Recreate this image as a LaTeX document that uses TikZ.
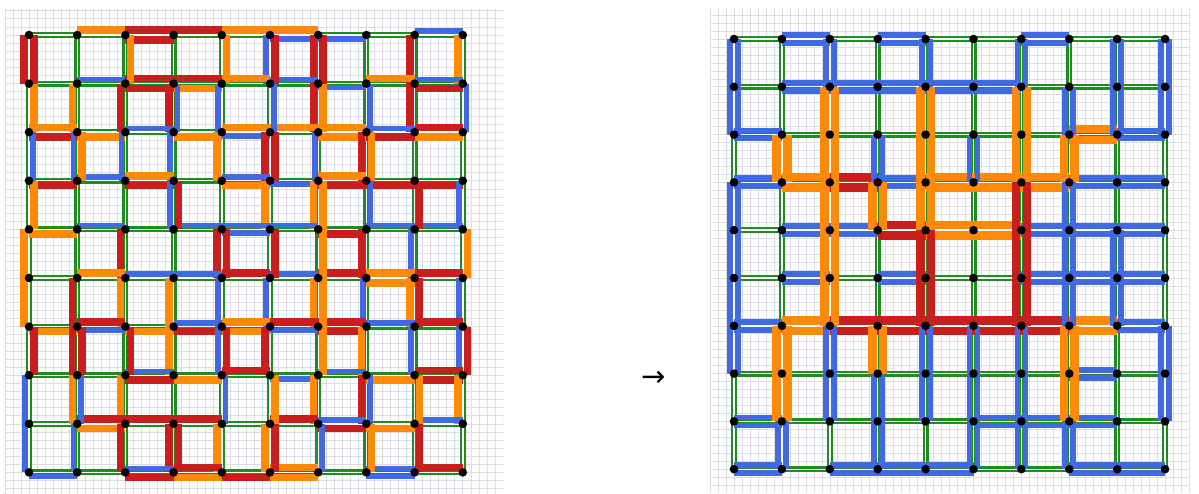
\documentclass[tikz,border=0pt]{standalone}
\usepackage{fontspec}
\newfontfamily\arrowfont{DejaVu Sans}
\usetikzlibrary{calc}
\definecolor{cred}{HTML}{C81E1E}
\definecolor{corange}{HTML}{FF8A0A}
\definecolor{cblue}{HTML}{4169E1}
\definecolor{cgreen}{HTML}{1E8C1E}
\definecolor{cpaper}{HTML}{DCDCE4}
\def\bgap{1.1}
\def\bwid{0}
\def\wRO{7.5}
\def\wB{5.5}
\newcommand\SB[5]{\path[bar/.expanded=#5] ($(#1)+({#3*(\bgap+\bwid/2)},{#4*(\bgap+\bwid/2)})$) -- ($(#2)+({#3*(\bgap+\bwid/2)},{#4*(\bgap+\bwid/2)})$);}
\begin{document}
\begin{tikzpicture}[x=1pt,y=-1pt,
  paper/.style={draw=cpaper, line width=0.6pt},
  gedge/.style={draw=cgreen, line width=2.3pt, double=white, double distance=1.4pt},
  bar/.style={bar#1},
  barr/.style={draw=cred, line width=\wRO pt, /utils/exec={\edef\bwid{\wRO}}},
  baro/.style={draw=corange, line width=\wRO pt, /utils/exec={\edef\bwid{\wRO}}},
  barb/.style={draw=cblue, line width=\wB pt, /utils/exec={\edef\bwid{\wB}}},
  barn/.style={draw=none, /utils/exec={\def\bwid{0}}},
  dot/.style={fill=black}]
\useasboundingbox (0,0) rectangle (1199,494);
\fill[white] (0,0) rectangle (1199,494);
% grid paper
\begin{scope}
\clip (5,10) rectangle (503,493);
\foreach \k in {-3,...,59} \draw[paper] ({29+8.033*\k},0) -- ++(0,500);
\foreach \k in {-4,...,57} \draw[paper] (0,{35+8.1*\k}) -- ++(510,0);
\end{scope}
\begin{scope}
\clip (710,9) rectangle (1190,492);
\foreach \k in {-3,...,57} \draw[paper] ({734+7.983*\k},0) -- ++(0,500);
\foreach \k in {-5,...,57} \draw[paper] (700,{39+7.967*\k}) -- ++(500,0);
\end{scope}
% lattice points
\foreach \i in {0,...,9}{\foreach \j in {0,...,9}{
  \coordinate (L-\i-\j) at ({29+48.2*\i},{35+48.6*\j});
  \coordinate (R-\i-\j) at ({734+47.9*\i},{39+47.8*\j});
}}
% green lattice edges
\foreach \i [evaluate=\i as \ii using int(\i+1)] in {0,...,8}{\foreach \j in {0,...,9}{
  \draw[gedge] (L-\i-\j) -- (L-\ii-\j);
  \draw[gedge] (L-\j-\i) -- (L-\j-\ii);
  \draw[gedge] (R-\i-\j) -- (R-\ii-\j);
  \draw[gedge] (R-\j-\i) -- (R-\j-\ii);
}}
% left grid: face bars (col/row/top/right/bottom/left)
\foreach \fc/\fr/\sT/\sR/\sB/\sL in {
0/0/n/n/n/r, 1/0/n/n/b/n, 2/0/r/n/r/o, 3/0/n/n/r/n, 4/0/n/b/o/o, 5/0/b/r/b/r, 6/0/b/n/n/r, 7/0/n/r/o/n, 8/0/n/o/b/n,
0/1/n/o/o/o, 1/1/n/r/n/n, 2/1/r/r/b/n, 3/1/o/b/n/b, 4/1/n/n/o/n, 5/1/n/r/o/b, 6/1/b/n/o/o, 7/1/n/r/b/b, 8/1/r/n/r/n,
0/2/r/b/n/b, 1/2/o/b/b/o, 2/2/n/b/o/n, 3/2/o/o/n/n, 4/2/b/r/b/n, 5/2/n/b/n/r, 6/2/o/r/o/n, 7/2/r/n/n/o, 8/2/o/n/n/n,
0/3/r/n/n/o, 1/3/n/n/b/n, 2/3/r/b/n/n, 3/3/n/n/b/r, 4/3/o/o/b/n, 5/3/b/o/b/n, 6/3/r/n/n/o, 7/3/r/n/b/b, 8/3/r/b/b/r,
0/4/o/n/n/n, 1/4/n/r/o/n, 2/4/n/n/b/n, 3/4/n/r/b/n, 4/4/b/n/r/r, 5/4/n/n/b/r, 6/4/r/r/r/o, 7/4/n/b/o/n, 8/4/n/n/r/n,
0/5/n/r/n/n, 1/5/n/o/r/n, 2/5/n/o/n/n, 3/5/n/b/b/n, 4/5/n/b/o/n, 5/5/n/o/r/n, 6/5/n/b/r/o, 7/5/o/o/b/n, 8/5/n/b/r/r,
0/6/o/r/n/r, 1/6/b/n/n/r, 2/6/o/o/b/r, 3/6/r/b/n/n, 4/6/o/r/r/r, 5/6/b/n/n/n, 6/6/r/o/b/o, 7/6/n/b/n/n, 8/6/n/b/r/n,
0/7/n/o/n/n, 1/7/n/o/r/b, 2/7/r/n/r/n, 3/7/o/n/r/n, 4/7/n/n/n/b, 5/7/b/o/r/o, 6/7/n/r/b/n, 7/7/o/n/n/b, 8/7/r/o/b/o,
0/8/n/b/n/n, 1/8/o/r/n/n, 2/8/n/r/b/n, 3/8/n/o/r/r, 4/8/n/o/n/n, 5/8/n/n/o/r, 6/8/r/n/n/b, 7/8/o/n/b/o, 8/8/n/n/r/r}{
  \pgfmathtruncatemacro\cc{\fc+1}
  \pgfmathtruncatemacro\rr{\fr+1}
  \SB{L-\fc-\fr}{L-\cc-\fr}{0}{1}{\sT}
  \SB{L-\cc-\fr}{L-\cc-\rr}{-1}{0}{\sR}
  \SB{L-\fc-\rr}{L-\cc-\rr}{0}{-1}{\sB}
  \SB{L-\fc-\fr}{L-\fc-\rr}{1}{0}{\sL}
}
% left grid: outer bars
\foreach \oc/\s in {1/o,2/r,3/r,4/o,5/o,8/b}{\pgfmathtruncatemacro\cc{\oc+1}\SB{L-\oc-0}{L-\cc-0}{0}{-1}{\s}}
\foreach \oc/\s in {0/b,2/r,3/o,4/r,5/o,7/b}{\pgfmathtruncatemacro\cc{\oc+1}\SB{L-\oc-9}{L-\cc-9}{0}{1}{\s}}
\foreach \orw/\s in {0/r,4/o,5/o,7/b,8/b}{\pgfmathtruncatemacro\rr{\orw+1}\SB{L-0-\orw}{L-0-\rr}{-1}{0}{\s}}
\foreach \orw/\s in {1/b,4/o,6/r}{\pgfmathtruncatemacro\rr{\orw+1}\SB{L-9-\orw}{L-9-\rr}{1}{0}{\s}}
% right grid: two-sided bars
\def\wRO{8.5}\def\wB{5.8}
\foreach \hi/\hj/\s in {
1/0/b,3/0/b,6/0/b,
1/1/b,2/1/b,3/1/b,4/1/b,5/1/b,
0/2/b,7/2/o,8/2/b,
0/3/b,1/3/o,2/3/r,3/3/b,4/3/o,5/3/o,6/3/o,7/3/b,8/3/b,
1/4/b,2/4/b,3/4/r,4/4/o,5/4/o,6/4/b,7/4/b,8/4/b,
1/5/b,3/5/b,6/5/b,7/5/b,8/5/b,
0/6/b,1/6/o,2/6/r,3/6/r,4/6/r,5/6/r,6/6/r,7/6/o,8/6/b,
7/7/b,
0/8/b,5/8/b,6/8/b,7/8/b,
0/9/b,2/9/b,3/9/b,4/9/b,7/9/b,8/9/b}{
  \pgfmathtruncatemacro\cc{\hi+1}
  \SB{R-\hi-\hj}{R-\cc-\hj}{0}{1}{\s}
  \SB{R-\hi-\hj}{R-\cc-\hj}{0}{-1}{\s}
}
\foreach \vi/\vj/\s in {
0/0/b,2/0/b,4/0/b,6/0/b,8/0/b,9/0/b,
0/1/b,2/1/o,4/1/o,6/1/o,7/1/b,8/1/b,9/1/b,
1/2/o,2/2/o,3/2/b,4/2/o,5/2/b,6/2/o,7/2/o,
0/3/b,2/3/o,3/3/o,4/3/o,6/3/r,7/3/b,
0/4/b,2/4/o,4/4/r,6/4/r,7/4/b,8/4/b,
0/5/b,2/5/o,4/5/r,6/5/r,7/5/b,8/5/b,
0/6/b,1/6/o,2/6/b,3/6/o,4/6/b,5/6/b,6/6/b,7/6/o,9/6/b,
1/7/o,2/7/b,3/7/b,4/7/b,5/7/b,6/7/b,7/7/o,9/7/b,
1/8/b,3/8/b,5/8/b,6/8/b,7/8/b}{
  \pgfmathtruncatemacro\rr{\vj+1}
  \SB{R-\vi-\vj}{R-\vi-\rr}{1}{0}{\s}
  \SB{R-\vi-\vj}{R-\vi-\rr}{-1}{0}{\s}
}
% dots
\foreach \i in {0,...,9}{\foreach \j in {0,...,9}{
  \fill[dot] (L-\i-\j) circle[radius=4.3];
  \fill[dot] (R-\i-\j) circle[radius=4.3];
}}
% arrow
\node[font=\arrowfont\fontsize{29}{29}\selectfont, inner sep=0pt] (arrow) at (654,379) {→};
\end{tikzpicture}
\end{document}
